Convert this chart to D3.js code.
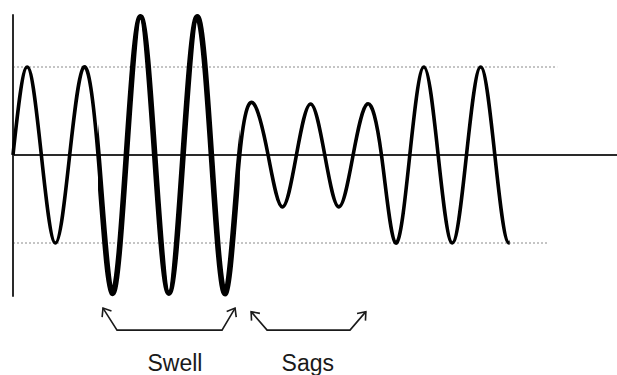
<!DOCTYPE html>
<html>
<head>
<meta charset="utf-8">
<script src="https://cdn.jsdelivr.net/npm/d3@7/dist/d3.min.js"></script>
<style>
  html, body { margin: 0; padding: 0; background: #fff; }
  svg { display: block; }
</style>
</head>
<body>
<svg id="chart" width="617" height="375"></svg>
<script>
// ---- data (time in quarter-cycles, value in units of normal amplitude) ----
const times  = d3.range(0, 37);
const values = [0, 1, 0, -1, 0, 1, 0, -1.57, 0, 1.57, 0, -1.57, 0, 1.57, 0, -1.57,
                0, 0.58, 0, -0.59, 0, 0.58, 0, -0.59, 0, 0.58, 0, -1, 0, 1, 0, -1, 0, 1, 0, -1, 0];
const traceEnd   = 35.05;            // trace is shown up to the last trough
const swellRange = [6, 16];          // thicker portion of the trace
const refLevels  = [1, -1];          // dotted reference lines (nominal amplitude)
const refEnds    = [38.4, 37.7];     // where each dotted line stops (time units)
const labels     = ["Swell", "Sags"];
const bracketTips   = [[6.35, 15.67], [16.8, 24.9]];
const bracketBottom = [[7.34, 14.75], [17.93, 23.78]];
const bracketTipY   = [-1.74, -1.78];
const bracketBaseY  = -1.99;
const labelT        = [11.43, 20.8];
const labelY        = -2.455;

// ---- scales ----
const W = 617, H = 375;
const x = d3.scaleLinear().domain([0, 35]).range([13, 509]);
const y = d3.scaleLinear().domain([-1, 1]).range([243, 67]);
const svg = d3.select("#chart");

// dotted reference lines
svg.selectAll("line.ref").data(refLevels).join("line")
  .attr("class", "ref")
  .attr("x1", x(0)).attr("x2", (d, i) => x(refEnds[i]))
  .attr("y1", d => y(d)).attr("y2", d => y(d))
  .attr("stroke", "#8a8a8a").attr("stroke-width", 1)
  .attr("stroke-dasharray", "2,2");

// axes
svg.append("line")
  .attr("x1", x(0)).attr("x2", W)
  .attr("y1", y(0)).attr("y2", y(0))
  .attr("stroke", "#2a2a2a").attr("stroke-width", 2);
svg.append("line")
  .attr("x1", x(0)).attr("x2", x(0))
  .attr("y1", y(1.6)).attr("y2", y(-1.61))
  .attr("stroke", "#2a2a2a").attr("stroke-width", 2);

// waveform
const pts = times.map((t, i) => [t, values[i]]);
const line = d3.line().x(d => x(d[0])).y(d => y(d[1])).curve(d3.curveNatural);

svg.append("clipPath").attr("id", "traceClip")
  .append("rect")
  .attr("x", 0).attr("width", x(traceEnd))
  .attr("y", 0).attr("height", H);
svg.append("path").attr("d", line(pts))
  .attr("clip-path", "url(#traceClip)")
  .attr("fill", "none").attr("stroke", "#000")
  .attr("stroke-width", 3.6).attr("stroke-linejoin", "round");

svg.append("clipPath").attr("id", "swellClip")
  .append("rect")
  .attr("x", x(swellRange[0])).attr("width", x(swellRange[1]) - x(swellRange[0]))
  .attr("y", 0).attr("height", H);
svg.append("path").attr("d", line(pts))
  .attr("clip-path", "url(#swellClip)")
  .attr("fill", "none").attr("stroke", "#000")
  .attr("stroke-width", 5.6).attr("stroke-linejoin", "round");

// brackets with open arrowheads
const g = svg.append("g").attr("fill", "none").attr("stroke", "#1a1a1a")
  .attr("stroke-width", 1.6).attr("stroke-linejoin", "miter").attr("stroke-linecap", "butt");
labels.forEach((lab, i) => {
  const tl = [x(bracketTips[i][0]), y(bracketTipY[i])];
  const bl = [x(bracketBottom[i][0]), y(bracketBaseY)];
  const br = [x(bracketBottom[i][1]), y(bracketBaseY)];
  const tr = [x(bracketTips[i][1]), y(bracketTipY[i])];
  g.append("path").attr("d", d3.line()([tl, bl, br, tr]));
  [[tl, bl], [tr, br]].forEach(([tip, from]) => {
    const ang = Math.atan2(from[1] - tip[1], from[0] - tip[0]);
    const L = 9, spread = 38 * Math.PI / 180;
    const a1 = [tip[0] + L * Math.cos(ang - spread), tip[1] + L * Math.sin(ang - spread)];
    const a2 = [tip[0] + L * Math.cos(ang + spread), tip[1] + L * Math.sin(ang + spread)];
    g.append("path").attr("d", d3.line()([a1, tip, a2]));
  });
});

// labels
svg.selectAll("text.lab").data(labels).join("text")
  .attr("class", "lab")
  .attr("x", (d, i) => x(labelT[i]))
  .attr("y", y(labelY))
  .attr("text-anchor", "middle")
  .attr("font-family", "Liberation Sans, Arial, Helvetica, sans-serif")
  .attr("font-size", 23)
  .attr("fill", "#1a1a1a")
  .text(d => d);
</script>
</body>
</html>
